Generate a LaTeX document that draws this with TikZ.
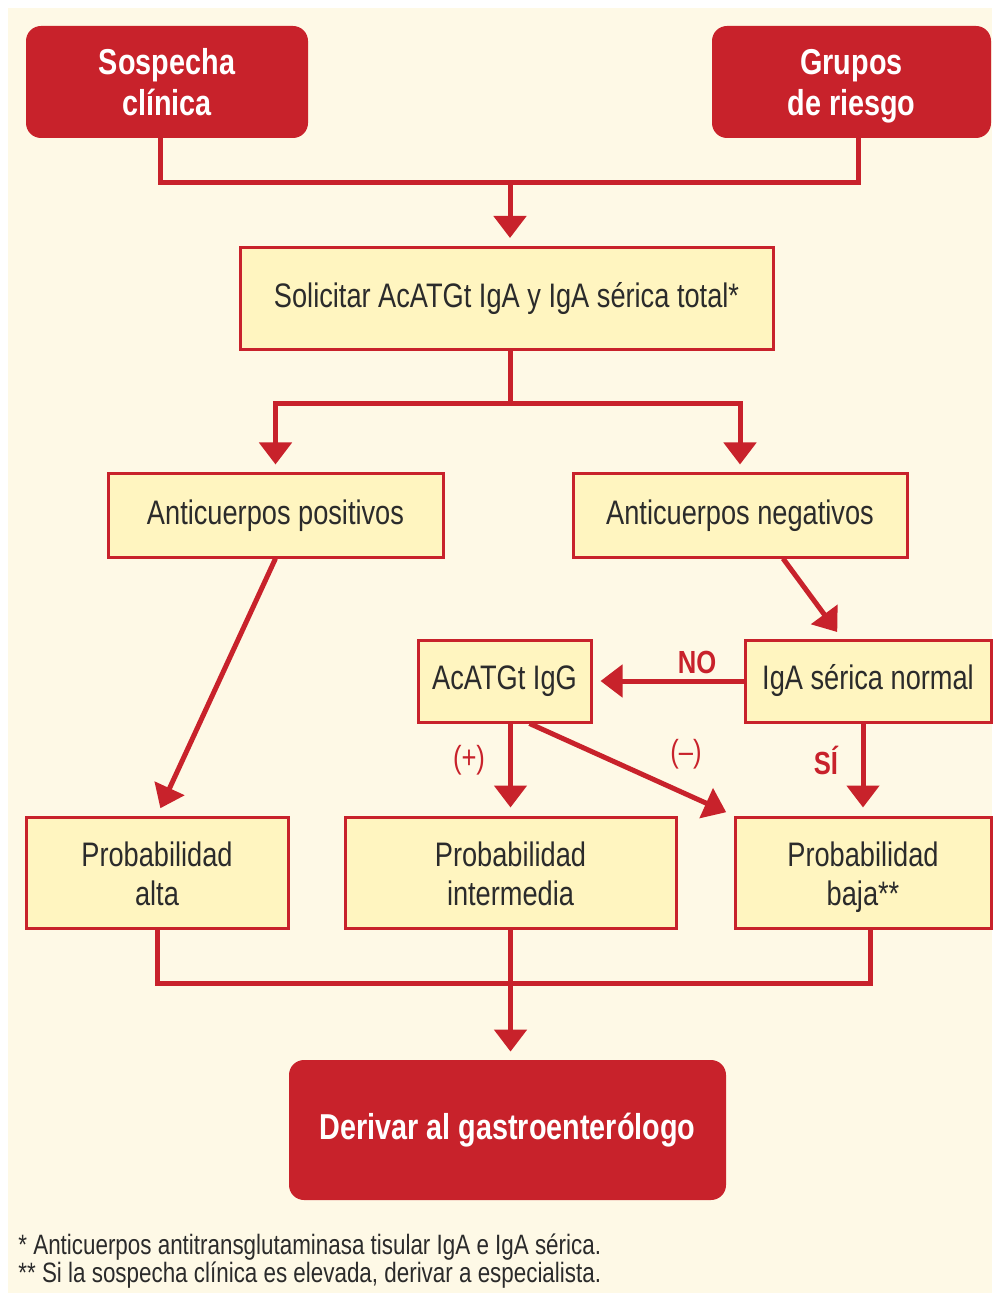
\documentclass[tikz,border=0pt]{standalone}
\usepackage{fontspec}
\setmainfont[FakeStretch=0.8]{Liberation Sans}
\usetikzlibrary{arrows.meta}

\definecolor{algred}{HTML}{C8222B}
\definecolor{boxyellow}{HTML}{FFF5C0}
\definecolor{bgcream}{HTML}{FEF9E6}
\definecolor{boxtext}{HTML}{2B2B2B}

\tikzstyle{redbox}=[fill=algred,rounded corners=7.5pt,text=white,align=center,font=\fontsize{18}{20.5}\selectfont\bfseries,inner sep=0pt]
\tikzstyle{yellowbox}=[draw=algred,line width=1.5pt,fill=boxyellow,text=boxtext,align=center,font=\fontsize{17}{19.5}\selectfont,inner sep=0pt]
\tikzstyle{line}=[draw=algred,line width=2.5pt]
\tikzstyle{arrow}=[line,-{Triangle[width=16pt,length=11pt]},shorten >=4pt]
\tikzstyle{lbl}=[text=algred,font=\fontsize{16}{18}\selectfont,inner sep=0pt]
\tikzstyle{note}=[anchor=west,text=boxtext,font=\fontsize{14}{16}\selectfont,inner sep=0pt]

\begin{document}
\begin{tikzpicture}[x=0.5pt,y=-0.5pt]
    \useasboundingbox (0,0) rectangle (992,1293);
    \fill[bgcream] (8,8) rectangle (992,1293);

    \node (sosp)[redbox,minimum width=141pt,minimum height=56pt] at (167,82) {\rule{0pt}{19pt}Sospecha\\clínica\strut};
    \node (grupos)[redbox,minimum width=139.5pt,minimum height=56pt] at (851.5,82) {\rule{0pt}{19pt}Grupos\\de riesgo\strut};

    \node (solic)[yellowbox,minimum width=266.5pt,minimum height=51pt] at (506.5,298.5) {Solicitar AcATGt IgA y IgA sérica total*};

    \node (pos)[yellowbox,minimum width=167.5pt,minimum height=41.5pt] at (275.5,515.5) {Anticuerpos positivos};
    \node (neg)[yellowbox,minimum width=167pt,minimum height=41.5pt] at (740,515.5) {Anticuerpos negativos};

    \node (igg)[yellowbox,minimum width=86.5pt,minimum height=41pt] at (504.5,681) {AcATGt IgG};
    \node (igan)[yellowbox,minimum width=123pt,minimum height=41pt] at (868,681) {IgA sérica normal};

    \node (alta)[yellowbox,minimum width=131pt,minimum height=55.5pt] at (157,872.5) {\rule{0pt}{19pt}Probabilidad\\alta\strut};
    \node (inter)[yellowbox,minimum width=165.5pt,minimum height=55.5pt] at (510.5,872.5) {\rule{0pt}{19pt}Probabilidad\\intermedia\strut};
    \node (baja)[yellowbox,minimum width=128pt,minimum height=55.5pt] at (863,872.5) {\rule{0pt}{19pt}Probabilidad\\baja**\strut};

    \node (deriv)[redbox,minimum width=218.5pt,minimum height=70pt] at (507.5,1130) {Derivar al gastroenterólogo};

    \coordinate (top) at (510,183);
    \coordinate (split) at (510,404);
    \coordinate (merge) at (510,983);

    \draw[line] ([xshift=-3.5pt]sosp.south) |- (top) -| ([xshift=3.5pt]grupos.south);
    \draw[arrow] (top) -- (top |- solic.north);

    \draw[line] (split |- solic.south) -- (split);
    \draw[arrow] (split) -| (pos.north);
    \draw[arrow] (split) -| (neg.north);

    \draw[arrow] ([xshift=21.5pt]neg.south) -- ([xshift=-13pt]igan.north);
    \draw[arrow] (pos.south) -- (alta.north);
    \draw[arrow] (igan.west) -- (igg.east);
    \draw[arrow] (igg.south -| inter.north) -- (inter.north);
    \draw[arrow] ([xshift=12.5pt]igg.south) -- (baja.north west);
    \draw[arrow] (igan.south -| baja.north) -- (baja.north);

    \node (no)[lbl,font=\fontsize{16}{18}\selectfont\bfseries] at (697,662) {NO};
    \node (si)[lbl,font=\fontsize{16}{18}\selectfont\bfseries] at (826,760) {SÍ};
    \node (mas)[lbl] at (469,760) {(+)};
    \node (menos)[lbl] at (686,754) {(–)};

    \draw[line] (alta.south) |- (merge) -| ([xshift=3.5pt]baja.south);
    \draw[arrow] (inter.south) -- (inter.south |- deriv.north);

    \node (nota1)[note] at (18,1247) {* Anticuerpos antitransglutaminasa tisular IgA e IgA sérica.};
    \node (nota2)[note] at (18,1275) {** Si la sospecha clínica es elevada, derivar a especialista.};
\end{tikzpicture}
\end{document}
